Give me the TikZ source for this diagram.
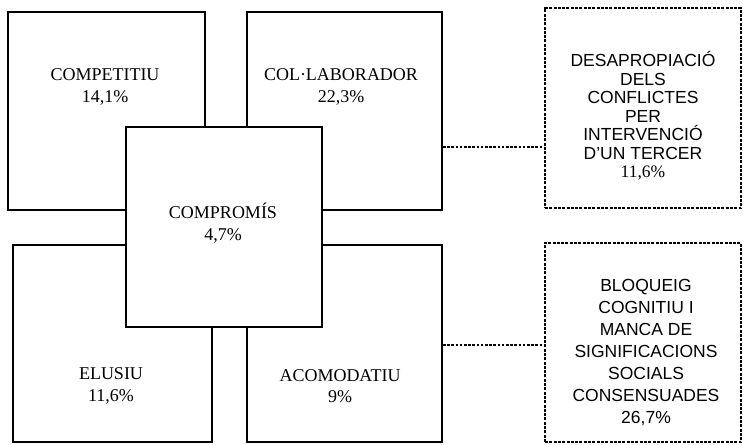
\documentclass[tikz,border=0pt]{standalone}
\usepackage{fontspec}
\setmainfont{Liberation Serif}
\setsansfont{Liberation Sans}
\tikzset{
  box/.style={draw, line width=1.8pt, inner sep=0pt, minimum width=196pt, minimum height=198pt},
  dotbox/.style={draw, line width=2.6pt, dash pattern=on 3pt off 1.3pt, inner sep=0pt, minimum width=196pt, minimum height=199pt},
  link/.style={line width=2.8pt, dash pattern=on 2.6pt off 1.6pt},
  txt/.style={align=center, font=\fontsize{18}{21.5}\selectfont},
  stxt/.style={align=center, font=\fontsize{17.5}{22}\selectfont\sffamily}
}
\begin{document}
\begin{tikzpicture}[x=1pt,y=-1pt]
\useasboundingbox (0,0) rectangle (743,444);
\node[box, minimum width=197pt] (comp) at (106.5,111) {};
\node[box, minimum width=195pt] (col) at (344.5,111) {};
\node[box, minimum width=199pt, minimum height=197pt] (elus) at (112.5,343.5) {};
\node[box, minimum width=195pt, minimum height=197pt] (acom) at (344.5,343.5) {};
\node[box, fill=white, minimum height=200pt] (compr) at (224,227) {};
\node[dotbox, minimum height=200pt] (desap) at (643,108) {};
\node[dotbox] (bloq) at (643,342.5) {};
\node[txt] (compt) at (105,87) {COMPETITIU\\14,1\%};
\node[txt] (colt) at (341,87) {COL·LABORADOR\\22,3\%};
\node[txt] (comprt) at (223,223) {COMPROMÍS\\4,7\%};
\node[txt] (elust) at (111,386) {ELUSIU\\11,6\%};
\node[txt] (acomt) at (340,386) {ACOMODATIU\\9\%};
\node[stxt, font=\fontsize{17.5}{18.5}\selectfont\sffamily] (desapt) at (643,116) {DESAPROPIACIÓ\\DELS\\CONFLICTES\\PER\\INTERVENCIÓ\\D'UN TERCER\\{\rmfamily 11,6\%}};
\node[stxt] (bloqt) at (646,353) {BLOQUEIG\\COGNITIU I\\MANCA DE\\SIGNIFICACIONS\\SOCIALS\\CONSENSUADES\\26,7\%};
\draw[link] ([yshift=-36pt]col.east) -- ([yshift=-36pt]col.east -| desap.west);
\draw[link] ([yshift=-1.5pt]acom.east) -- ([yshift=-1.5pt]acom.east -| bloq.west);
\end{tikzpicture}
\end{document}
